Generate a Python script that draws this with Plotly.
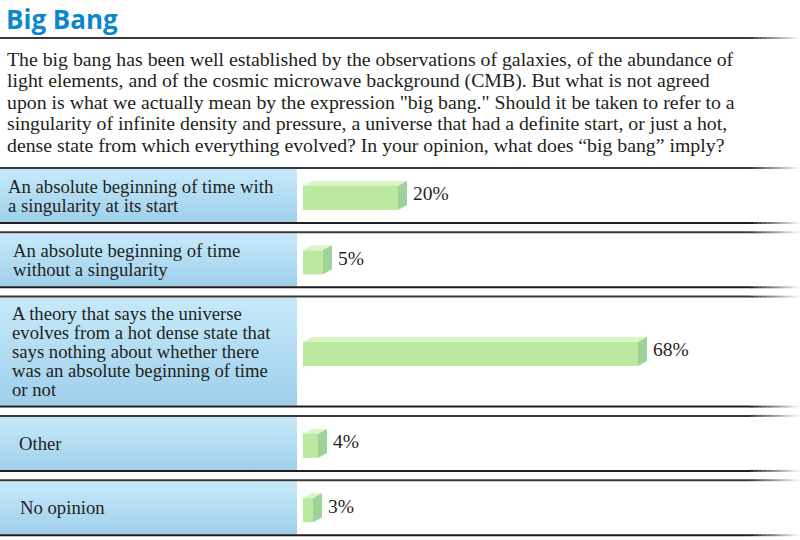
import plotly.graph_objects as go

# survey data
TITLE = "Big Bang"
INTRO_LINES = [
    "The big bang has been well established by the observations of galaxies, of the abundance of",
    "light elements, and of the cosmic microwave background (CMB). But what is not agreed",
    "upon is what we actually mean by the expression \"big bang.\" Should it be taken to refer to a",
    "singularity of infinite density and pressure, a universe that had a definite start, or just a hot,",
    "dense state from which everything evolved? In your opinion, what does \u201cbig bang\u201d imply?",
]
ANSWERS = [
    ["An absolute beginning of time with", "a singularity at its start"],
    ["An absolute beginning of time", "without a singularity"],
    ["A theory that says the universe", "evolves from a hot dense state that",
     "says nothing about whether there", "was an absolute beginning of time", "or not"],
    ["Other"],
    ["No opinion"],
]
SHARES = [20, 5, 68, 4, 3]

# layout (pixels)
W, H = 800, 540
PANEL_W = 297
ROW_H = [55, 55, 110, 55, 55]
ROW_START = 168
ROW_GAP = 9.3
LABEL_INDENT = [6, 11, 10, 17, 18]
LABEL_STEP = 19
PX_PER_PCT = 5
BAR_GAP = 1          # in %, gap between panel and bar
BAR_H = 24
DEPTH_X = 9 / PX_PER_PCT
DEPTH_Y = 5

SERIF = "Liberation Serif"
TEXT_COL = "#231f20"
FRONT = "#bce8a0"
TOP = "#d8f6c3"
SIDE = "#9dd29a"

fig = go.Figure()
shapes = []
annotations = []


def hline(y, color, width=2):
    # solid part then a fade to the right
    shapes.append(dict(type="line", xref="x2", yref="y", x0=0, x1=750, y0=y, y1=y,
                       line=dict(color=color, width=width)))
    n = 12
    for i in range(n):
        x0 = 750 + i * 50 / n
        shapes.append(dict(type="line", xref="x2", yref="y", x0=x0, x1=x0 + 50 / n, y0=y, y1=y,
                           opacity=1 - (i + 0.5) / n, line=dict(color=color, width=width)))


annotations.append(dict(text="<b>" + TITLE + "</b>", xref="x2", yref="y", x=4, y=19,
                        xanchor="left", yanchor="middle", showarrow=False,
                        font=dict(family="Open Sans", size=26, color="#0a88cc")))
hline(38, "#3a3a3a")

for i, line in enumerate(INTRO_LINES):
    annotations.append(dict(text=line, xref="x2", yref="y", x=5, y=59 + i * 21.4,
                            xanchor="left", yanchor="middle", showarrow=False,
                            font=dict(family=SERIF, size=19.8, color=TEXT_COL)))

top = ROW_START
for k, (label, share) in enumerate(zip(ANSWERS, SHARES)):
    bot = top + ROW_H[k]
    mid = (top + bot) / 2
    hline(top, "#3a3a3a")
    hline(bot, "#1e1e1e")

    # blue label panel
    fig.add_trace(go.Scatter(
        x=[0, PANEL_W, PANEL_W, 0, 0], y=[top + 1, top + 1, bot - 1, bot - 1, top + 1],
        xaxis="x2", yaxis="y", mode="lines", line=dict(width=0), fill="toself",
        fillgradient=dict(type="vertical", colorscale=[[0, "#c7eafa"], [1, "#9fcfeb"]],
                          start=top, stop=bot),
        hoverinfo="skip", showlegend=False))

    n = len(label)
    for j, txt in enumerate(label):
        annotations.append(dict(text=txt, xref="x2", yref="y", x=LABEL_INDENT[k],
                                y=mid + (j - (n - 1) / 2) * LABEL_STEP,
                                xanchor="left", yanchor="middle", showarrow=False,
                                font=dict(family=SERIF, size=18.7, color=TEXT_COL)))

    # 3d bar: front, top and side faces
    fy = mid + DEPTH_Y / 2
    yt, yb = fy - BAR_H / 2, fy + BAR_H / 2
    fig.add_trace(go.Bar(x=[share - BAR_GAP], base=BAR_GAP, y=[fy], width=BAR_H,
                         orientation="h", marker=dict(color=FRONT, line=dict(width=0)),
                         hoverinfo="skip", showlegend=False))
    fig.add_trace(go.Scatter(
        x=[BAR_GAP, share, share + DEPTH_X, BAR_GAP + DEPTH_X, BAR_GAP],
        y=[yt, yt, yt - DEPTH_Y, yt - DEPTH_Y, yt],
        mode="lines", line=dict(width=0), fill="toself", fillcolor=TOP,
        hoverinfo="skip", showlegend=False))
    fig.add_trace(go.Scatter(
        x=[share, share + DEPTH_X, share + DEPTH_X, share, share],
        y=[yt, yt - DEPTH_Y, yb - DEPTH_Y, yb, yt],
        mode="lines", line=dict(width=0), fill="toself", fillcolor=SIDE,
        hoverinfo="skip", showlegend=False))
    fig.add_trace(go.Scatter(
        x=[share + DEPTH_X + 1.2], y=[mid], mode="text", text=[f"{share}%"],
        textposition="middle right",
        textfont=dict(family=SERIF, size=19.5, color=TEXT_COL),
        hoverinfo="skip", showlegend=False))

    top = bot + ROW_GAP

fig.update_layout(
    width=W, height=H, margin=dict(l=0, r=0, t=0, b=0),
    paper_bgcolor="white", plot_bgcolor="rgba(0,0,0,0)",
    xaxis=dict(domain=[(PANEL_W + 1) / W, 1], range=[0, (W - PANEL_W - 1) / PX_PER_PCT],
               visible=False, fixedrange=True),
    xaxis2=dict(domain=[0, 1], range=[0, W], visible=False, anchor="y", fixedrange=True),
    yaxis=dict(domain=[0, 1], range=[H, 0], visible=False, fixedrange=True),
    shapes=shapes, annotations=annotations, barmode="overlay", showlegend=False,
)

fig.write_html("out.html", config={"displayModeBar": False},
               post_script="document.body.style.margin='0';")
